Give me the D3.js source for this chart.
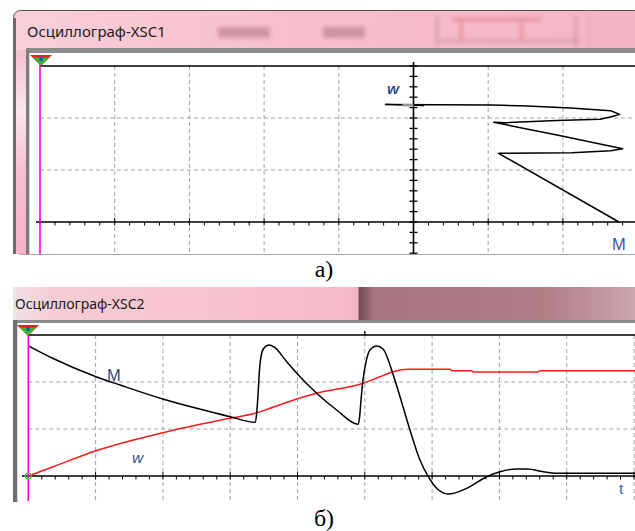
<!DOCTYPE html>
<html><head><meta charset="utf-8">
<script src="https://cdn.jsdelivr.net/npm/d3@7"></script>
<style>html,body{margin:0;padding:0;background:#fff;} svg{display:block;}</style>
</head><body>
<svg id="c" width="635" height="531"></svg>
<script>
// ---------- DATA (values in oscilloscope screen divisions) ----------
// Panel а): XY mode, M on the horizontal channel, w on the vertical channel
const xyM = [2.75, 1.14, 2.12, 2.64, 2.80, 1.97, 1.075, 1.23, 1.92, 2.50, 2.66, 2.76, 2.64, 2.10, 1.52, 1.05, -0.375, 0.134, -0.174, 0.04];
const xyW = [0.00, 1.32, 1.33, 1.37, 1.41, 1.66, 1.917, 1.91, 1.95, 1.975, 2.03, 2.07, 2.14, 2.19, 2.23, 2.25, 2.26, 2.24, 2.25, 2.246];

// Panel б): time traces
const tM   = [0, 0.37, 1.006, 1.363, 1.997, 2.502, 2.997, 3.369, 3.391, 3.413, 3.435, 3.473, 3.517, 3.581, 3.651, 3.840, 3.988, 4.285, 4.582, 4.903, 4.921, 4.944, 4.973, 5.018, 5.077, 5.177, 5.271, 5.423, 5.523, 5.671, 5.820, 5.944, 6.068, 6.241, 6.514, 6.811, 7.009, 7.257, 7.406, 7.652, 7.851, 9.1];
const valM = [2.77, 2.50, 2.113, 1.936, 1.638, 1.440, 1.262, 1.143, 1.30, 1.72, 2.255, 2.64, 2.745, 2.787, 2.745, 2.432, 2.185, 1.760, 1.404, 1.100, 1.234, 1.617, 2.043, 2.426, 2.681, 2.766, 2.702, 2.149, 1.687, 0.979, 0.340, -0.015, -0.262, -0.383, -0.262, -0.015, 0.091, 0.149, 0.149, 0.091, 0.057, 0.057];
const tW   = [0, 0.371, 1.006, 1.997, 2.997, 3.369, 3.591, 3.988, 4.285, 4.978, 5.226, 5.423, 5.646, 6.266, 6.291, 6.588, 6.612, 7.578, 7.603, 9.1];
const valW = [0, 0.198, 0.538, 0.921, 1.228, 1.334, 1.440, 1.638, 1.760, 1.972, 2.113, 2.219, 2.270, 2.270, 2.240, 2.240, 2.213, 2.213, 2.240, 2.240];

const titles = ["Осциллограф-XSC1", "Осциллограф-XSC2"];
const panelLabels = ["а)", "б)"];
const labelsA = {x: "M", y: "w"};
const labelsB = {m: "M", w: "w", t: "t"};

// ---------- SCALES ----------
const xA = d3.scaleLinear().domain([-5, 5]).range([40, 787]);
const yA = d3.scaleLinear().domain([0, 3]).range([222, 66]);
const xB = d3.scaleLinear().domain([0, 10]).range([28.3, 701.3]);
const yB = d3.scaleLinear().domain([0, 3]).range([476, 335]);

const svg = d3.select("#c");
const defs = svg.append("defs");
defs.append("filter").attr("id", "blur").attr("x", "-20%").attr("y", "-50%").attr("width", "140%").attr("height", "200%")
  .append("feGaussianBlur").attr("stdDeviation", 2.2);
const g1 = defs.append("linearGradient").attr("id", "pinkA").attr("x1", 0).attr("y1", 0).attr("x2", 1).attr("y2", 0);
[[0, "#f8d0d9"], [0.3, "#f8c3cf"], [0.7, "#f6b9c8"], [1, "#f5b4c4"]].forEach(s => g1.append("stop").attr("offset", s[0]).attr("stop-color", s[1]));
const g2 = defs.append("linearGradient").attr("id", "pinkB").attr("gradientUnits", "userSpaceOnUse").attr("x1", 13).attr("y1", 0).attr("x2", 635).attr("y2", 0);
[[0, "#efe2e5"], [0.06, "#f6cdd5"], [0.3, "#f8c4cf"], [0.54, "#f5b9c7"], [0.555, "#f1b3c1"], [0.556, "#6d4a52"], [0.58, "#a57480"], [0.86, "#b27f89"], [1, "#cba7ad"]].forEach(s => g2.append("stop").attr("offset", s[0]).attr("stop-color", s[1]));
const g3 = defs.append("linearGradient").attr("id", "strip").attr("x1", 0).attr("y1", 0).attr("x2", 0).attr("y2", 1);
[[0, "#f3c0cb"], [0.3, "#fbe6eb"], [0.6, "#f7c0cd"], [1, "#f5b3c3"]].forEach(s => g3.append("stop").attr("offset", s[0]).attr("stop-color", s[1]));

defs.append("clipPath").attr("id", "clipA").append("rect").attr("x", 29).attr("y", 53).attr("width", 606).attr("height", 201);
defs.append("clipPath").attr("id", "clipB").append("rect").attr("x", 18).attr("y", 323).attr("width", 617).attr("height", 178);

// ---------- WINDOW A CHROME ----------
svg.append("rect").attr("x", 13.5).attr("y", 10.5).attr("width", 640).attr("height", 243.5).attr("rx", 7)
  .attr("fill", "url(#pinkA)").attr("stroke", "#4e4e4e");
svg.append("rect").attr("x", 16).attr("y", 50).attr("width", 11).attr("height", 204).attr("fill", "url(#strip)");
// blurred toolbar remnants in title bar
const blobs = [[218, 27, 52, 11, "#c48a97"], [323, 27, 42, 11, "#c48a97"], [436, 16, 2, 30, "#a98a92"], [452, 18, 90, 3, "#e0808f"], [460, 18, 3, 24, "#e48796"], [520, 20, 3, 22, "#e48796"], [440, 40, 140, 2, "#b8909a"], [575, 16, 2, 30, "#b68d97"], [588, 12, 3, 36, "#e6a8b6"]];
svg.append("g").attr("filter", "url(#blur)").selectAll("rect").data(blobs).join("rect")
  .attr("x", d => d[0]).attr("y", d => d[1]).attr("width", d => d[2]).attr("height", d => d[3]).attr("fill", d => d[4]).attr("opacity", 0.8);
svg.append("text").attr("x", 27).attr("y", 37).text(titles[0])
  .attr("font-family", "Noto Sans, sans-serif").attr("font-size", 15).attr("fill", "#1b1b1b");
svg.append("rect").attr("x", 26).attr("y", 48).attr("width", 609).attr("height", 5).attr("fill", "#8c8c8c");
svg.append("rect").attr("x", 26).attr("y", 50).attr("width", 3.5).attr("height", 204).attr("fill", "#7c7c7c");
svg.append("rect").attr("x", 29.5).attr("y", 53).attr("width", 606).attr("height", 201).attr("fill", "#fff");
svg.append("rect").attr("x", 13).attr("y", 18).attr("width", 3).attr("height", 236).attr("fill", "#6a6a6a");

// ---------- PANEL A PLOT ----------
const pA = svg.append("g").attr("clip-path", "url(#clipA)");
const dash = "4,3", gridCol = "#a3a3a3";
pA.selectAll(".gvA").data(d3.range(-4, 6).filter(d => d !== 0)).join("line")
  .attr("x1", d => xA(d)).attr("x2", d => xA(d)).attr("y1", yA(3)).attr("y2", 254)
  .attr("stroke", gridCol).attr("stroke-dasharray", dash);
pA.selectAll(".ghA").data([1, 2]).join("line")
  .attr("x1", xA(-5)).attr("x2", 635).attr("y1", d => yA(d)).attr("y2", d => yA(d))
  .attr("stroke", gridCol).attr("stroke-dasharray", dash);
pA.append("line").attr("x1", xA(-5)).attr("x2", 635).attr("y1", yA(3)).attr("y2", yA(3)).attr("stroke", "#000").attr("stroke-width", 1.6);
pA.append("line").attr("x1", 36).attr("x2", 635).attr("y1", yA(0)).attr("y2", yA(0)).attr("stroke", "#000").attr("stroke-width", 1.5);
pA.selectAll(".txA").data(d3.range(-25, 26).map(d => d / 5)).join("line")
  .attr("x1", d => xA(d)).attr("x2", d => xA(d))
  .attr("y1", d => Math.abs(d - Math.round(d)) < 1e-6 ? yA(0) - 4 : yA(0)).attr("y2", yA(0) + 3.5)
  .attr("stroke", "#000").attr("stroke-width", 1);
pA.append("line").attr("x1", xA(0)).attr("x2", xA(0)).attr("y1", 62).attr("y2", 254).attr("stroke", "#000").attr("stroke-width", 1.6);
pA.selectAll(".tyA").data(d3.range(-6, 16).map(d => d / 5)).join("line")
  .attr("x1", xA(0) - 4).attr("x2", xA(0) + 4).attr("y1", d => yA(d)).attr("y2", d => yA(d))
  .attr("stroke", "#000").attr("stroke-width", 1.3);
svg.append("line").attr("x1", xA(-5)).attr("x2", xA(-5)).attr("y1", 57).attr("y2", 254).attr("stroke", "#ff00ff").attr("stroke-width", 1.6);
const lineA = d3.line().x(d => xA(d[0])).y(d => yA(d[1]));
pA.append("path").datum(xyM.map((m, i) => [m, xyW[i]])).attr("d", lineA)
  .attr("fill", "none").attr("stroke", "#000").attr("stroke-width", 1.5).attr("stroke-linejoin", "round");
pA.append("rect").attr("x", xA(-0.15)).attr("y", yA(2.245) - 1.2).attr("width", xA(0.0) - xA(-0.15)).attr("height", 2.4).attr("fill", "#9a9a9a");
function trig(cx, top) {
  svg.append("path").attr("d", `M${cx - 11},${top} L${cx + 11},${top} L${cx},${top + 11} Z`).attr("fill", "#e3231f");
  svg.append("path").attr("d", `M${cx - 8},${top + 2.5} L${cx + 8},${top + 2.5} L${cx},${top + 10.5} Z`).attr("fill", "#2fc02f");
  svg.append("rect").attr("x", cx - 1.5).attr("y", top + 2).attr("width", 3).attr("height", 4).attr("fill", "#2a4cc0");
}
trig(41, 55);
const lf = "Liberation Sans, Arial, sans-serif";
svg.append("text").attr("x", 387).attr("y", 94).text(labelsA.y).attr("font-family", lf)
  .attr("font-style", "italic").attr("font-weight", "bold").attr("font-size", 15.5).attr("fill", "#2d4f8e");
svg.append("text").attr("x", 612).attr("y", 250).text(labelsA.x).attr("font-family", lf)
  .attr("font-size", 16.5).attr("fill", "#3a5896");
svg.append("text").attr("x", 324).attr("y", 277).attr("text-anchor", "middle").text(panelLabels[0])
  .attr("font-family", "Liberation Serif, Times New Roman, serif").attr("font-size", 24).attr("fill", "#000");

// ---------- WINDOW B CHROME ----------
svg.append("rect").attr("x", 13).attr("y", 287).attr("width", 622).attr("height", 36).attr("fill", "url(#pinkB)");
svg.append("text").attr("x", 15).attr("y", 309).text(titles[1])
  .attr("font-family", "Noto Sans, sans-serif").attr("font-size", 14).attr("fill", "#1b1b1b");
svg.append("rect").attr("x", 13).attr("y", 320).attr("width", 622).attr("height", 3).attr("fill", "#8c8c8c");
svg.append("rect").attr("x", 13).attr("y", 320).attr("width", 4.5).attr("height", 182).attr("fill", "#6e6e6e");
svg.append("rect").attr("x", 17.5).attr("y", 323).attr("width", 618).attr("height", 178).attr("fill", "#fff");

// ---------- PANEL B PLOT ----------
const pB = svg.append("g").attr("clip-path", "url(#clipB)");
pB.selectAll(".gvB").data(d3.range(1, 10)).join("line")
  .attr("x1", d => xB(d)).attr("x2", d => xB(d)).attr("y1", yB(3)).attr("y2", 501)
  .attr("stroke", gridCol).attr("stroke-dasharray", dash);
pB.selectAll(".ghB").data([1, 2]).join("line")
  .attr("x1", xB(0)).attr("x2", 635).attr("y1", d => yB(d)).attr("y2", d => yB(d))
  .attr("stroke", gridCol).attr("stroke-dasharray", dash);
pB.append("line").attr("x1", xB(0)).attr("x2", 635).attr("y1", yB(3)).attr("y2", yB(3)).attr("stroke", "#000").attr("stroke-width", 1.6);
pB.append("line").attr("x1", xB(5)).attr("x2", xB(5)).attr("y1", 331).attr("y2", yB(3)).attr("stroke", "#000").attr("stroke-width", 1.3);
pB.append("line").attr("x1", 22).attr("x2", 635).attr("y1", yB(0)).attr("y2", yB(0)).attr("stroke", "#000").attr("stroke-width", 1.5);
pB.selectAll(".txB").data(d3.range(0, 51).map(d => d / 5)).join("line")
  .attr("x1", d => xB(d)).attr("x2", d => xB(d))
  .attr("y1", d => Math.abs(d - Math.round(d)) < 1e-6 ? yB(0) - 4 : yB(0)).attr("y2", yB(0) + 3.5)
  .attr("stroke", "#000").attr("stroke-width", 1);
svg.append("line").attr("x1", xB(0)).attr("x2", xB(0)).attr("y1", 330).attr("y2", 501).attr("stroke", "#ff00ff").attr("stroke-width", 1.6);
const lineM = d3.line().x((d, i) => xB(tM[i])).y(d => yB(d)).curve(d3.curveMonotoneX);
const lineW = d3.line().x((d, i) => xB(tW[i])).y(d => yB(d)).curve(d3.curveMonotoneX);
pB.append("path").datum(valW).attr("d", lineW).attr("fill", "none").attr("stroke", "#ff1a1a").attr("stroke-width", 1.5);
pB.append("path").datum(valM).attr("d", lineM).attr("fill", "none").attr("stroke", "#000").attr("stroke-width", 1.5);
svg.append("circle").attr("cx", xB(0)).attr("cy", yB(0)).attr("r", 3).attr("fill", "none").attr("stroke", "#3ccf3c").attr("stroke-width", 1.2);
trig(28, 325);
svg.append("text").attr("x", 107).attr("y", 381).text(labelsB.m).attr("font-family", lf)
  .attr("font-size", 16.5).attr("fill", "#3a4a6c");
svg.append("text").attr("x", 132).attr("y", 463).text(labelsB.w).attr("font-family", lf)
  .attr("font-style", "italic").attr("font-size", 15.5).attr("fill", "#2d4f8e");
svg.append("text").attr("x", 619).attr("y", 494).text(labelsB.t).attr("font-family", lf)
  .attr("font-size", 15.5).attr("fill", "#2f69b0");
svg.append("text").attr("x", 324).attr("y", 526).attr("text-anchor", "middle").text(panelLabels[1])
  .attr("font-family", "Liberation Serif, Times New Roman, serif").attr("font-size", 24).attr("fill", "#000");
</script>
</body></html>
